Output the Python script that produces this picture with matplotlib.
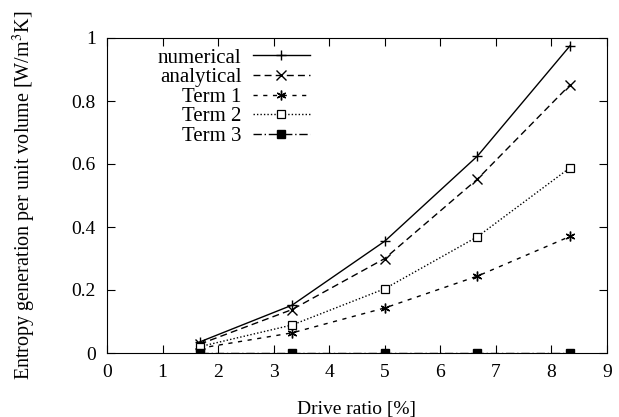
import matplotlib
matplotlib.use('Agg')
import matplotlib.pyplot as plt

drive_ratio = [1.667, 3.333, 5.0, 6.667, 8.333]
numerical = [0.035, 0.152, 0.355, 0.625, 0.975]
analytical = [0.028, 0.138, 0.300, 0.552, 0.851]
term1 = [0.015, 0.064, 0.143, 0.244, 0.370]
term2 = [0.020, 0.089, 0.204, 0.369, 0.588]
term3 = [0.0, 0.0, 0.0, 0.0, 0.0]

plt.rcParams['font.family'] = ['Liberation Serif', 'DejaVu Serif']
plt.rcParams['mathtext.fontset'] = 'stix'

fig = plt.figure(figsize=(6.19, 4.17), dpi=100)
ax = fig.add_axes([107 / 619, 1 - 353 / 417, 500 / 619, 315 / 417])

ax.plot(drive_ratio, numerical, color='black', lw=1, ls='-', marker='+', ms=7,
        label='numerical')
ax.plot(drive_ratio, analytical, color='black', lw=1, ls=(0, (5, 3)), marker='x', ms=7,
        label='analytical')
ax.plot(drive_ratio, term1, color='black', lw=1, ls=(0, (3, 4)), marker=(6, 2, 0), ms=7,
        label='Term 1')
ax.plot(drive_ratio, term2, color='black', lw=1, ls=(0, (1, 1.5)), marker='s', ms=6,
        mfc='white', mew=0.9, label='Term 2')
ax.plot(drive_ratio, term3, color='black', lw=1, ls=(0, (6, 2, 1, 2)), marker='s', ms=6,
        label='Term 3')

ax.set_xlim(0, 9)
ax.set_ylim(0, 1)
ax.set_xticks(range(0, 10))
ax.set_yticks([0, 0.2, 0.4, 0.6, 0.8, 1])
ax.set_yticklabels(['0', '0.2', '0.4', '0.6', '0.8', '1'])
ax.tick_params(direction='in', top=True, right=True, length=6, labelsize=14, pad=8)

ax.set_xlabel('Drive ratio [%]', fontsize=14, labelpad=14)
ax.set_ylabel('Entropy generation per unit volume [W/m$^3$K]', fontsize=14.5, labelpad=24)

ax.legend(loc='upper right', bbox_to_anchor=(0.406, 0.968), frameon=False, markerfirst=False,
          fontsize=15, handlelength=2.75, labelspacing=0.0, handletextpad=0.55,
          borderaxespad=0, borderpad=0)

fig.savefig('out.png', dpi=100)
